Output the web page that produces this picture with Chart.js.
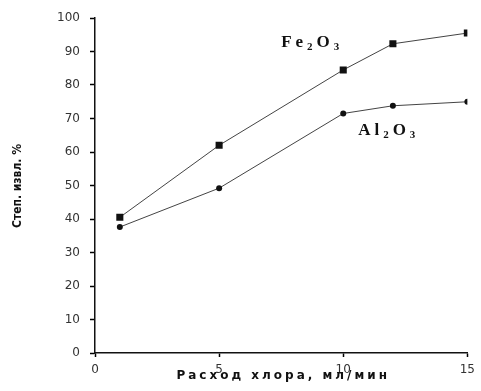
<!DOCTYPE html>
<html>
<head>
<meta charset="utf-8">
<script src="https://cdn.jsdelivr.net/npm/chart.js@4.4.0/dist/chart.umd.min.js"></script>
<style>
  html, body { margin: 0; padding: 0; background: #fff; }
  #wrap { width: 481px; height: 391px; }
</style>
</head>
<body>
<div id="wrap"><canvas id="lineChart" width="481" height="391"></canvas></div>
<script>
// chlorine flow, ml/min
const flow = [1, 5, 10, 12, 15];
// extraction degree, %
const fe2o3 = [40.5, 62, 84.5, 92.3, 95.5];
const al2o3 = [37.6, 49.2, 71.5, 73.8, 75];

const xTicks = [0, 5, 10, 15];
const yTicks = [0, 10, 20, 30, 40, 50, 60, 70, 80, 90, 100];

const xTitle = 'Расход хлора, мл/мин';
const yTitle = 'Степ. извл. %';

// series labels: [text, subscript?] pieces, anchored in data units
const seriesLabels = [
  { parts: [['Fe', false], ['2', true], ['O', false], ['3', true]], x: 7.5, y: 91.3 },
  { parts: [['Al', false], ['2', true], ['O', false], ['3', true]], x: 10.6, y: 65 },
];

const toPoints = (xs, ys) => xs.map((x, i) => ({ x: x, y: ys[i] }));

const labelsPlugin = {
  id: 'labelsPlugin',
  afterDraw(chart) {
    const ctx = chart.ctx;
    const xs = chart.scales.x;
    const ys = chart.scales.y;
    const area = chart.chartArea;

    ctx.save();
    ctx.fillStyle = '#111';

    // axis titles
    ctx.letterSpacing = '3px';
    ctx.font = 'bold 12px "DejaVu Sans"';
    ctx.textAlign = 'center';
    ctx.textBaseline = 'middle';
    ctx.fillText(xTitle, (area.left + area.right) / 2 + 2, 376);

    ctx.letterSpacing = '0px';
    ctx.save();
    ctx.translate(18, 186);
    ctx.rotate(-Math.PI / 2);
    ctx.font = 'bold 12px "Liberation Sans Narrow", "DejaVu Sans Condensed", sans-serif';
    ctx.fillText(yTitle, 0, 0);
    ctx.restore();

    // formula labels next to the curves
    ctx.textAlign = 'left';
    ctx.textBaseline = 'alphabetic';
    ctx.letterSpacing = '4px';
    seriesLabels.forEach((lab) => {
      let px = xs.getPixelForValue(lab.x);
      const py = ys.getPixelForValue(lab.y);
      lab.parts.forEach(([txt, sub]) => {
        ctx.font = sub ? 'bold 11px "Liberation Serif"' : 'bold 17px "Liberation Serif"';
        ctx.fillText(txt, px, sub ? py + 3 : py);
        px += ctx.measureText(txt).width;
      });
    });
    ctx.restore();
  },
};

const tickFont = { family: 'DejaVu Sans', size: 12, weight: 'normal' };

const chartElement = document.getElementById('lineChart');
new Chart(chartElement, {
  type: 'scatter',
  data: {
    datasets: [
      {
        label: 'Fe2O3',
        data: toPoints(flow, fe2o3),
        showLine: true,
        borderColor: '#444',
        borderWidth: 1,
        pointStyle: 'rect',
        pointRadius: 5,
        pointBackgroundColor: '#111',
        pointBorderColor: '#111',
        pointBorderWidth: 0,
      },
      {
        label: 'Al2O3',
        data: toPoints(flow, al2o3),
        showLine: true,
        borderColor: '#444',
        borderWidth: 1,
        pointStyle: 'circle',
        pointRadius: 3,
        pointBackgroundColor: '#111',
        pointBorderColor: '#111',
        pointBorderWidth: 0,
      },
    ],
  },
  options: {
    responsive: false,
    animation: false,
    layout: { padding: { top: 18, right: 12, left: 0, bottom: 0 } },
    plugins: {
      legend: { display: false },
      tooltip: { enabled: false },
    },
    scales: {
      x: {
        type: 'linear',
        min: 0,
        max: 15,
        afterBuildTicks: (scale) => { scale.ticks = xTicks.map((v) => ({ value: v })); },
        afterFit: (scale) => { scale.height = 38; },
        border: { color: '#111', width: 1.5 },
        grid: { drawOnChartArea: false, drawTicks: true, tickLength: 4, tickColor: '#000', tickWidth: 1.5 },
        ticks: { color: '#333', padding: 6, font: tickFont },
      },
      y: {
        type: 'linear',
        min: 0,
        max: 100,
        afterBuildTicks: (scale) => { scale.ticks = yTicks.map((v) => ({ value: v })); },
        afterFit: (scale) => { scale.width = 95; },
        border: { color: '#111', width: 1.5 },
        grid: { drawOnChartArea: false, drawTicks: true, tickLength: 5, tickColor: '#000', tickWidth: 1.5 },
        ticks: { color: '#333', padding: 10, font: tickFont },
      },
    },
  },
  plugins: [labelsPlugin],
});
</script>
</body>
</html>
